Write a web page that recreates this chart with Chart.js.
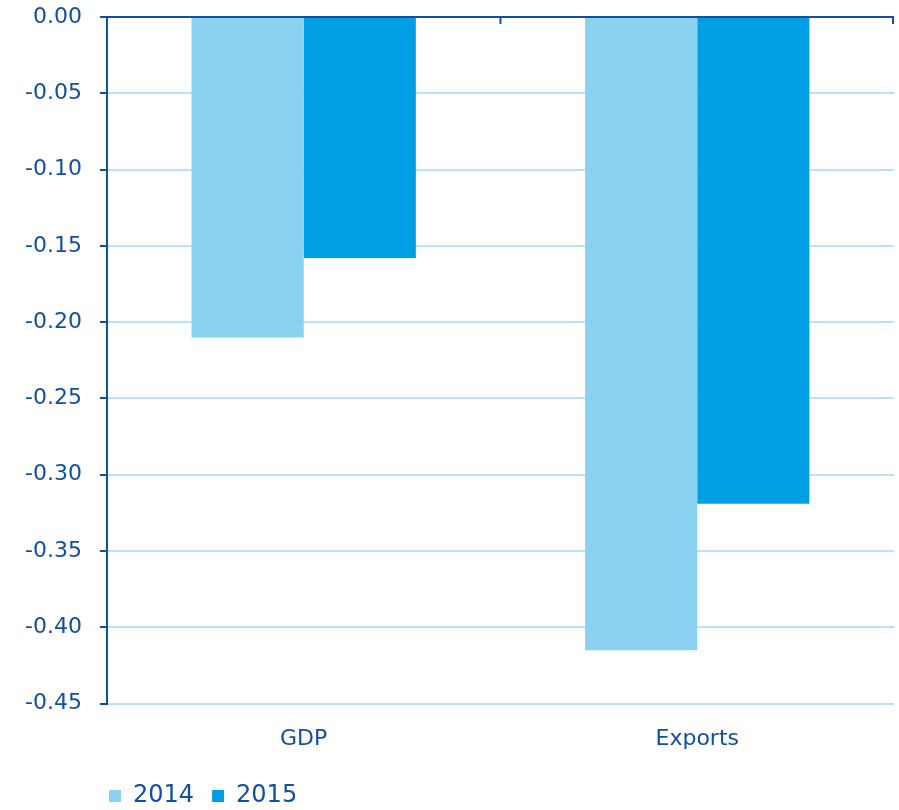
<!DOCTYPE html>
<html>
<head>
<meta charset="utf-8">
<script src="https://cdn.jsdelivr.net/npm/chart.js@4"></script>
<style>
  html, body { margin: 0; padding: 0; background: #fff; }
  #wrap { width: 899px; height: 810px; }
</style>
</head>
<body>
<div id="wrap"><canvas id="bar-chart"></canvas></div>
<script>
const categories = ["GDP", "Exports"];
const values2014 = [-0.21, -0.415];
const values2015 = [-0.158, -0.319];
const yTicks = [0, -0.05, -0.10, -0.15, -0.20, -0.25, -0.30, -0.35, -0.40, -0.45];

const darkBlue = "#1150a0";
const gridBlue = "#b9e3f7";
const fontFamily = "'DejaVu Sans', sans-serif";

// zero line across the top with ticks at category boundaries
const zeroLine = {
    id: 'zeroLine',
    afterDatasetsDraw(chart) {
        const {ctx, chartArea, scales: {x, y}} = chart;
        const y0 = y.getPixelForValue(0);
        const w = x.getPixelForValue(1) - x.getPixelForValue(0);
        ctx.save();
        ctx.strokeStyle = darkBlue;
        ctx.lineWidth = 2;
        ctx.beginPath();
        ctx.moveTo(chartArea.left, y0);
        ctx.lineTo(chartArea.right, y0);
        for (let i = 1; i <= categories.length; i++) {
            const bx = Math.min(x.getPixelForValue(0) - w / 2 + i * w, chartArea.right - 1);
            ctx.moveTo(bx, y0);
            ctx.lineTo(bx, y0 + 7);
        }
        ctx.stroke();
        ctx.restore();
    }
};

// legend sits a bit in from the left edge
const legendShift = {
    id: 'legendShift',
    afterLayout(chart) {
        chart.legend.left += 84;
        chart.legend.right += 84;
    }
};

new Chart(document.getElementById("bar-chart"), {
    type: 'bar',
    data: {
        labels: categories,
        datasets: [
            { label: "2014", backgroundColor: "#8ad1f2", data: values2014 },
            { label: "2015", backgroundColor: "#009fe3", data: values2015 }
        ]
    },
    options: {
        maintainAspectRatio: false,
        responsive: true,
        animation: false,
        layout: { padding: { left: 7, right: 5, top: 0, bottom: 0 } },
        datasets: { bar: { categoryPercentage: 0.57, barPercentage: 1.0 } },
        scales: {
            x: {
                grid: { display: false },
                border: { display: false },
                ticks: { color: darkBlue, padding: 14, font: { family: fontFamily, size: 22 } }
            },
            y: {
                min: -0.45,
                max: 0,
                afterBuildTicks(scale) {
                    scale.ticks = yTicks.slice().sort((a, b) => a - b).map(v => ({ value: v }));
                },
                afterFit(scale) {
                    scale.paddingTop = 17;
                    scale.paddingBottom = 14;
                },
                grid: { color: gridBlue, lineWidth: 2, tickColor: darkBlue, tickLength: 7, tickWidth: 2 },
                border: { color: darkBlue, width: 2 },
                ticks: {
                    color: darkBlue,
                    padding: 18,
                    font: { family: fontFamily, size: 22 },
                    callback: v => v.toFixed(2)
                }
            }
        },
        plugins: {
            legend: {
                position: 'bottom',
                align: 'start',
                maxHeight: 44,
                labels: {
                    color: darkBlue,
                    boxWidth: 12,
                    boxHeight: 12,
                    padding: 18,
                    font: { family: fontFamily, size: 24 }
                }
            },
            tooltip: { enabled: false }
        }
    },
    plugins: [zeroLine, legendShift]
});
</script>
</body>
</html>
